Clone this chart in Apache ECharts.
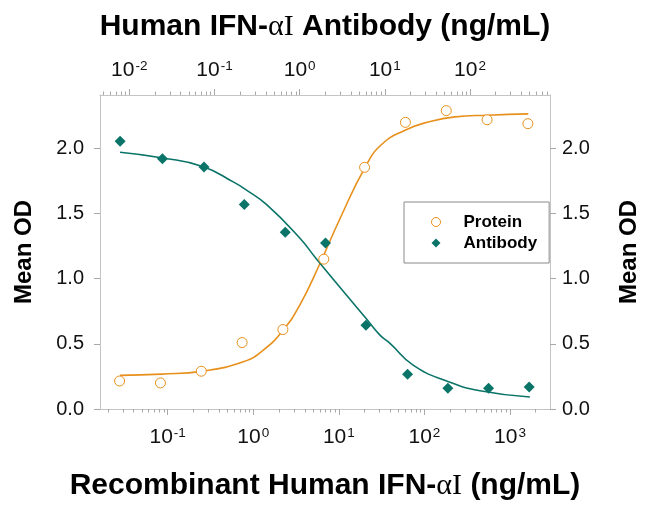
<!DOCTYPE html>
<html><head><meta charset="utf-8">
<script src="https://cdn.jsdelivr.net/npm/echarts@6/dist/echarts.min.js"></script>
<style>html,body{margin:0;padding:0;background:#fff}#c{width:650px;height:506px}</style>
</head><body><div id="c"></div>
<script>
// Recombinant Human IFN-alphaI (bottom axis), ng/mL
const proteinConc = [0.0274, 0.0823, 0.247, 0.741, 2.22, 6.67, 20, 60, 180, 540, 1620];
const proteinOD   = [0.215, 0.20, 0.29, 0.51, 0.61, 1.15, 1.855, 2.20, 2.29, 2.22, 2.19];
// Human IFN-alphaI Antibody (top axis), ng/mL
const antibodyConc = [0.0078, 0.0245, 0.0754, 0.224, 0.678, 2.01, 6.0, 18.5, 55, 165, 495];
const antibodyOD   = [2.055, 1.92, 1.858, 1.570, 1.356, 1.274, 0.643, 0.266, 0.159, 0.159, 0.169];
// fitted curves
const proteinFitConc = [0.0277, 0.085, 0.256, 0.764, 1.31, 2.28, 3.51, 6.02, 10.3, 20.4, 31.6, 59.3, 111, 227, 557, 1635];
const proteinFitOD   = [0.258, 0.268, 0.291, 0.363, 0.452, 0.613, 0.80, 1.117, 1.46, 1.858, 2.03, 2.14, 2.203, 2.242, 2.255, 2.265];
const antibodyFitConc = [0.00778, 0.0247, 0.0739, 0.166, 0.228, 0.410, 1.008, 1.583, 6.0, 8.77, 11.5, 21.5, 53.1, 131, 505];
const antibodyFitOD   = [1.971, 1.927, 1.860, 1.743, 1.688, 1.568, 1.310, 1.150, 0.696, 0.567, 0.504, 0.337, 0.215, 0.140, 0.092];
// axes
const bottomMajorTicks = [0.1, 1, 10, 100, 1000];
const topMajorTicks = [0.01, 0.1, 1, 10, 100];
const yTicks = [0, 0.5, 1.0, 1.5, 2.0];
const bottomRange = [0.01618, 2935];
const topRange = [0.00453, 869];
const yRange = [0, 2.41];

function minorTicks(range) {
  const out = [];
  for (let e = -3; e <= 3; e++) {
    for (let k = 2; k <= 9; k++) {
      const v = k * Math.pow(10, e);
      if (v > range[0] && v < range[1]) out.push(v);
    }
  }
  return out;
}
const zip = (a, b) => a.map((v, i) => [v, b[i]]);

const ORANGE = '#E8901C';
const TEAL = '#0B7468';
const FRAME = '#c4c4c4';
const TICK = '#a8a8a8';
const FONT = 'Liberation Sans, Arial, sans-serif';

const supRich = {
  b: { fontSize: 21, fontFamily: FONT, color: '#111', lineHeight: 23 },
  s: { fontSize: 13.5, fontFamily: FONT, color: '#111', verticalAlign: 'top', lineHeight: 23, padding: [0, 0, 0, 1] }
};
const powLabel = v => '{b|10}{s|' + Math.round(Math.log10(v)) + '}';

const titleStyle = {
  fontSize: 30, fontWeight: 'bold', fontFamily: FONT, color: '#000',
  rich: { g: { fontSize: 30, fontFamily: 'Liberation Serif, serif', fontWeight: 'normal', color: '#000' } }
};
const yNameStyle = { fontSize: 24, fontWeight: 'bold', fontFamily: FONT, color: '#000' };

function logAxis(pos, range, major, withLabels, name, nameGap, labelMargin) {
  return {
    type: 'log', logBase: 10, position: pos, min: range[0], max: range[1],
    axisLine: { show: withLabels, lineStyle: { color: FRAME, width: 1 } },
    axisTick: withLabels
      ? { show: true, inside: false, length: 6, customValues: major, lineStyle: { color: TICK } }
      : { show: true, inside: false, length: 3.5, customValues: minorTicks(range), lineStyle: { color: TICK } },
    axisLabel: withLabels
      ? { show: true, customValues: major, formatter: powLabel, rich: supRich, margin: labelMargin }
      : { show: false },
    splitLine: { show: false }, minorTick: { show: false },
    name: withLabels ? name : '', nameLocation: 'middle', nameGap: nameGap,
    nameTextStyle: titleStyle
  };
}

function yAxis(pos, margin, gap) {
  return {
    type: 'value', position: pos, min: yRange[0], max: yRange[1], interval: 0.5,
    axisLine: { show: true, lineStyle: { color: FRAME, width: 1 } },
    axisTick: { show: true, inside: false, length: 6, customValues: yTicks, lineStyle: { color: TICK } },
    axisLabel: { customValues: yTicks, formatter: v => v.toFixed(1), fontSize: 20, fontFamily: FONT, color: '#111', margin: margin },
    splitLine: { show: false },
    name: 'Mean OD', nameLocation: 'middle', nameRotate: 90, nameGap: gap, nameTextStyle: yNameStyle
  };
}

const chart = echarts.init(document.getElementById('c'), null, { renderer: 'canvas' });
chart.setOption({
  backgroundColor: '#fff',
  animation: false,
  grid: { left: 100, right: 100, top: 95, bottom: 97, containLabel: false },
  xAxis: [
    logAxis('bottom', bottomRange, bottomMajorTicks, true, 'Recombinant Human IFN-{g|αI} (ng/mL)', 62, 17),
    logAxis('bottom', bottomRange, bottomMajorTicks, false),
    logAxis('top', topRange, topMajorTicks, true, 'Human IFN-{g|αI} Antibody (ng/mL)', 53, 13),
    logAxis('top', topRange, topMajorTicks, false)
  ],
  yAxis: [yAxis('left', 16, 64), yAxis('right', 12, 67)],
  legend: {
    left: 404, top: 202, orient: 'vertical',
    data: ['Protein', 'Antibody'],
    itemWidth: 9, itemHeight: 9, itemGap: 3,
    padding: [11, 12, 11, 27],
    borderColor: '#8a8a8a', borderWidth: 1, borderRadius: 0,
    backgroundColor: '#fff',
    itemStyle: { borderWidth: 1 },
    formatter: name => '{sp|}' + name,
    textStyle: { fontSize: 17, fontWeight: 'bold', fontFamily: FONT, color: '#000', lineHeight: 18,
      rich: { sp: { width: 18 } } }
  },
  series: [
    { name: 'Protein fit', type: 'line', xAxisIndex: 0, yAxisIndex: 0, data: zip(proteinFitConc, proteinFitOD),
      smooth: 0.5, showSymbol: false, lineStyle: { color: ORANGE, width: 1.6 }, itemStyle: { color: ORANGE }, silent: true, z: 2 },
    { name: 'Antibody fit', type: 'line', xAxisIndex: 2, yAxisIndex: 0, data: zip(antibodyFitConc, antibodyFitOD),
      smooth: 0.5, showSymbol: false, lineStyle: { color: TEAL, width: 1.6 }, itemStyle: { color: TEAL }, silent: true, z: 2 },
    { name: 'Protein', type: 'scatter', xAxisIndex: 0, yAxisIndex: 0, data: zip(proteinConc, proteinOD),
      symbol: 'circle', symbolSize: 10, itemStyle: { color: '#fff', borderColor: ORANGE, borderWidth: 1, opacity: 1 }, z: 3 },
    { name: 'Antibody', type: 'scatter', xAxisIndex: 2, yAxisIndex: 0, data: zip(antibodyConc, antibodyOD),
      symbol: 'diamond', symbolSize: 11, itemStyle: { color: TEAL, opacity: 1 }, z: 3 }
  ]
});
</script>
</body></html>
